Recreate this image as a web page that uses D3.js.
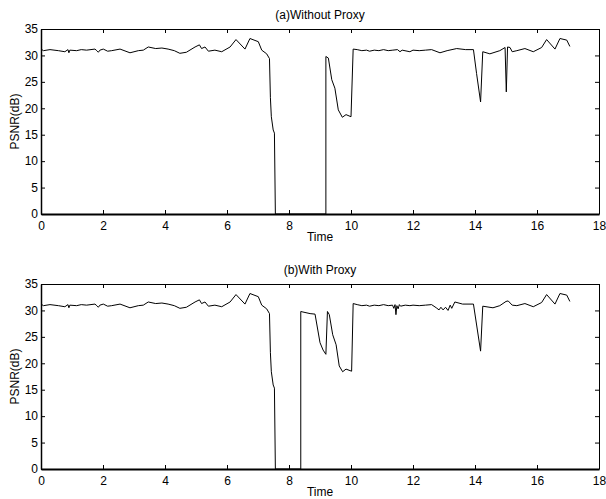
<!DOCTYPE html>
<html lang="en">
<head>
    <meta charset="UTF-8">
    <title>PSNR over Time</title>
    <script src="https://d3js.org/d3.v7.min.js"></script>
    <style>
        body { margin: 0; background: white; }
        svg { font-family: "Liberation Sans", Arial, sans-serif; }
        .axis text { font-size: 12px; fill: black; }
        .axis path, .axis line { stroke: black; }
    </style>
</head>
<body>
    <svg width="606" height="499"></svg>

    <script>
        // tick values
        const xTicks = [0, 2, 4, 6, 8, 10, 12, 14, 16, 18];
        const yTicks = [0, 5, 10, 15, 20, 25, 30, 35];

        // shared start of both traces (time, PSNR)
        const startTime = [0, 0.08, 0.29, 0.56, 0.77, 0.87, 0.9, 0.93, 1.15, 1.3, 1.47, 1.74, 1.8, 1.85, 1.9, 2.01, 2.15, 2.28, 2.55, 2.87, 3.14, 3.3, 3.46, 3.7, 3.9, 4.1, 4.3, 4.48, 4.69, 4.97, 5.11, 5.18, 5.29, 5.4, 5.61, 5.83, 6.1, 6.29, 6.58, 6.74, 7.01, 7.12, 7.28, 7.37, 7.4, 7.43, 7.49, 7.53, 7.56];
        const startPsnr = [31.2, 30.9, 31.1, 30.9, 30.7, 31.1, 30.5, 31.0, 30.9, 31.1, 31.0, 31.2, 30.9, 30.6, 31.0, 31.2, 30.8, 30.9, 31.2, 30.5, 30.9, 31.0, 31.6, 31.3, 31.4, 31.2, 30.9, 30.4, 30.6, 31.6, 32.0, 31.3, 31.6, 30.8, 31.0, 30.7, 31.6, 33.0, 31.2, 33.2, 32.6, 31.0, 30.3, 29.4, 22.0, 18.4, 15.9, 15.3, 0];

        // (a) without proxy, after the outage
        const aTime = [9.19, 9.19, 9.27, 9.38, 9.48, 9.59, 9.72, 9.84, 10.0, 10.07, 10.2, 10.35, 10.5, 10.6, 10.75, 10.9, 11.05, 11.2, 11.35, 11.5, 11.58, 11.65, 11.9, 12.0, 12.2, 12.4, 12.6, 12.87, 13.1, 13.41, 13.7, 13.95, 14.05, 14.18, 14.25, 14.48, 14.8, 14.97, 15.01, 15.05, 15.13, 15.2, 15.35, 15.61, 15.88, 16.15, 16.31, 16.58, 16.74, 16.96, 17.06];
        const aPsnr = [0, 29.8, 29.5, 25.4, 23.8, 19.7, 18.3, 18.8, 18.4, 31.2, 31.1, 30.9, 31.0, 30.8, 31.0, 30.9, 31.1, 30.9, 31.0, 31.1, 30.7, 31.0, 30.7, 31.0, 30.9, 31.0, 31.1, 30.5, 30.9, 31.3, 31.1, 31.1, 26.6, 21.2, 30.7, 30.3, 30.9, 31.5, 23.1, 31.6, 31.5, 30.7, 30.9, 31.3, 30.7, 31.5, 33.0, 31.2, 33.2, 32.9, 31.7];

        // (b) with proxy, after the outage
        const bTime = [8.38, 8.38, 8.45, 8.68, 8.84, 9.0, 9.1, 9.19, 9.24, 9.3, 9.41, 9.52, 9.62, 9.73, 9.84, 10.02, 10.07, 10.2, 10.35, 10.5, 10.6, 10.75, 10.9, 11.05, 11.2, 11.34, 11.38, 11.42, 11.45, 11.48, 11.52, 11.56, 11.6, 11.75, 11.9, 12.0, 12.2, 12.4, 12.6, 12.75, 12.84, 12.9, 12.97, 13.05, 13.13, 13.2, 13.25, 13.35, 13.6, 13.95, 14.18, 14.25, 14.58, 14.8, 15.0, 15.07, 15.2, 15.35, 15.61, 15.88, 16.15, 16.31, 16.58, 16.74, 16.96, 17.06];
        const bPsnr = [0, 29.8, 29.7, 29.4, 29.3, 23.9, 22.5, 21.7, 29.8, 29.2, 25.4, 23.5, 19.5, 18.4, 18.9, 18.5, 31.3, 31.1, 30.9, 31.0, 30.8, 31.0, 30.9, 31.1, 30.9, 31.0, 30.4, 31.1, 29.2, 30.9, 30.3, 31.1, 30.8, 31.0, 30.9, 31.0, 30.9, 31.0, 31.1, 30.5, 30.1, 30.6, 30.1, 30.6, 30.0, 31.0, 30.4, 31.6, 31.2, 31.2, 22.3, 30.8, 30.5, 30.9, 31.7, 31.8, 31.0, 30.9, 31.3, 30.7, 31.5, 33.0, 31.2, 33.2, 32.9, 31.7];

        const panels = [
            { title: "(a)Without Proxy", time: startTime.concat(aTime), psnr: startPsnr.concat(aPsnr), top: 29 },
            { title: "(b)With Proxy", time: startTime.concat(bTime), psnr: startPsnr.concat(bPsnr), top: 284 }
        ];

        const svg = d3.select("svg");
        const left = 41, right = 599, h = 185;

        const x = d3.scaleLinear().domain([0, 18]).range([left, right]);

        panels.forEach(p => {
            const y = d3.scaleLinear().domain([0, 35]).range([p.top + h, p.top]);
            const g = svg.append("g");

            // trace
            const pts = p.time.map((t, i) => [t, p.psnr[i]]);
            g.append("path")
                .datum(pts)
                .attr("fill", "none")
                .attr("stroke", "black")
                .attr("stroke-width", 1)
                .attr("d", d3.line().x(d => x(d[0])).y(d => y(d[1])));

            // frame with inward ticks on all sides
            const bottom = g.append("g").attr("class", "axis")
                .attr("transform", `translate(0,${p.top + h})`)
                .call(d3.axisBottom(x).tickValues(xTicks).tickSize(-4).tickSizeOuter(0).tickPadding(7));
            bottom.select(".domain").attr("stroke-width", 2.2);
            g.append("g").attr("class", "axis")
                .attr("transform", `translate(0,${p.top})`)
                .call(d3.axisTop(x).tickValues(xTicks).tickSize(-4).tickSizeOuter(0).tickFormat(""));
            const leftAx = g.append("g").attr("class", "axis")
                .attr("transform", `translate(${left},0)`)
                .call(d3.axisLeft(y).tickValues(yTicks).tickSize(-4).tickSizeOuter(0).tickPadding(3));
            leftAx.select(".domain").attr("stroke-width", 1.5);
            g.append("g").attr("class", "axis")
                .attr("transform", `translate(${right},0)`)
                .call(d3.axisRight(y).tickValues(yTicks).tickSize(-4).tickSizeOuter(0).tickFormat(""));

            g.selectAll(".axis text").attr("font-family", null);

            g.append("text")
                .attr("x", (left + right) / 2)
                .attr("y", p.top - 10)
                .attr("text-anchor", "middle")
                .attr("font-size", "12px")
                .text(p.title);

            g.append("text")
                .attr("x", (left + right) / 2)
                .attr("y", p.top + h + 27)
                .attr("text-anchor", "middle")
                .attr("font-size", "12px")
                .text("Time");

            g.append("text")
                .attr("transform", `translate(19,${p.top + h / 2}) rotate(-90)`)
                .attr("text-anchor", "middle")
                .attr("font-size", "12px")
                .text("PSNR(dB)");
        });
    </script>
</body>
</html>
